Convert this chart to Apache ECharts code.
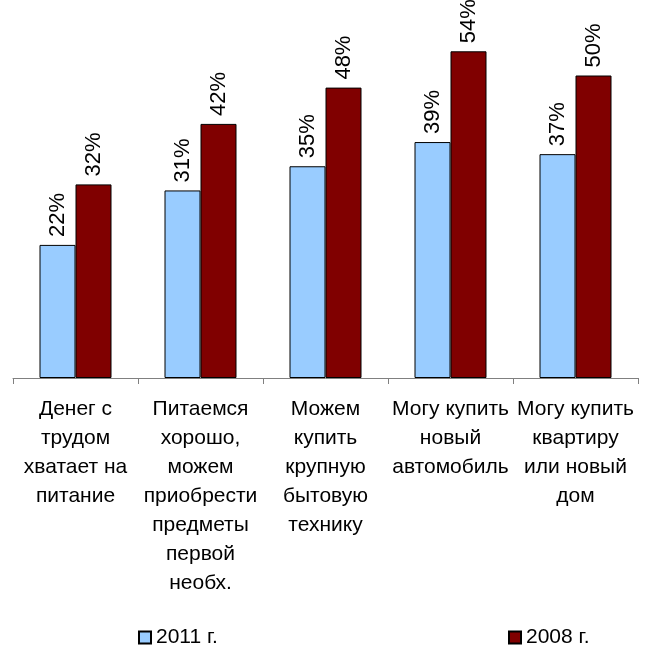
<!DOCTYPE html>
<html><head><meta charset="utf-8">
<script src="https://cdn.jsdelivr.net/npm/echarts@6/dist/echarts.min.js"></script>
<style>html,body{margin:0;padding:0;background:#fff}#c{width:651px;height:645px}</style>
</head><body><div id="c"></div>
<script>
var categories = [
  "Денег с\nтрудом\nхватает на\nпитание",
  "Питаемся\nхорошо,\nможем\nприобрести\nпредметы\nпервой\nнеобх.",
  "Можем\nкупить\nкрупную\nбытовую\nтехнику",
  "Могу купить\nновый\nавтомобиль",
  "Могу купить\nквартиру\nили новый\nдом"
];
var seriesNames = ["2011 г.", "2008 г."];
var values2011 = [22, 31, 35, 39, 37];
var values2008 = [32, 42, 48, 54, 50];

var FONT = "'Liberation Sans', Arial, sans-serif";
var chart = echarts.init(document.getElementById('c'), null, {renderer: 'canvas'});
var labelCfg = {
  show: true, position: 'top', rotate: 90, distance: 8,
  align: 'left', verticalAlign: 'middle',
  formatter: '{c}%', color: '#000', fontSize: 22, fontFamily: FONT
};
chart.setOption({
  animation: false,
  backgroundColor: '#fff',
  grid: {left: 13, right: 13, top: 15, bottom: 267, containLabel: false},
  legend: [
    {data: [seriesNames[0]], left: 133, top: 622, icon: 'rect', itemWidth: 12, itemHeight: 12, itemGap: 8,
     textStyle: {fontSize: 21, fontFamily: FONT, color: '#000'}},
    {data: [seriesNames[1]], left: 503, top: 622, icon: 'rect', itemWidth: 12, itemHeight: 12, itemGap: 8,
     textStyle: {fontSize: 21, fontFamily: FONT, color: '#000'}}
  ],
  xAxis: {
    type: 'category', data: categories,
    axisLine: {lineStyle: {color: '#808080', width: 1}},
    axisTick: {show: true, length: 6, alignWithLabel: false, lineStyle: {color: '#808080'}},
    axisLabel: {interval: 0, margin: 17, color: '#000', fontSize: 21, lineHeight: 29, fontFamily: FONT, align: 'center'}
  },
  yAxis: {type: 'value', min: 0, max: 60, show: false, splitLine: {show: false}},
  series: [
    {name: seriesNames[0], type: 'bar', data: values2011, barWidth: 36, barGap: '0%',
     itemStyle: {color: '#99CCFF', borderColor: '#000', borderWidth: 1}, label: labelCfg},
    {name: seriesNames[1], type: 'bar', data: values2008, barWidth: 36, barGap: '0%',
     itemStyle: {color: '#800000', borderColor: '#000', borderWidth: 1}, label: labelCfg}
  ]
});
</script></body></html>
